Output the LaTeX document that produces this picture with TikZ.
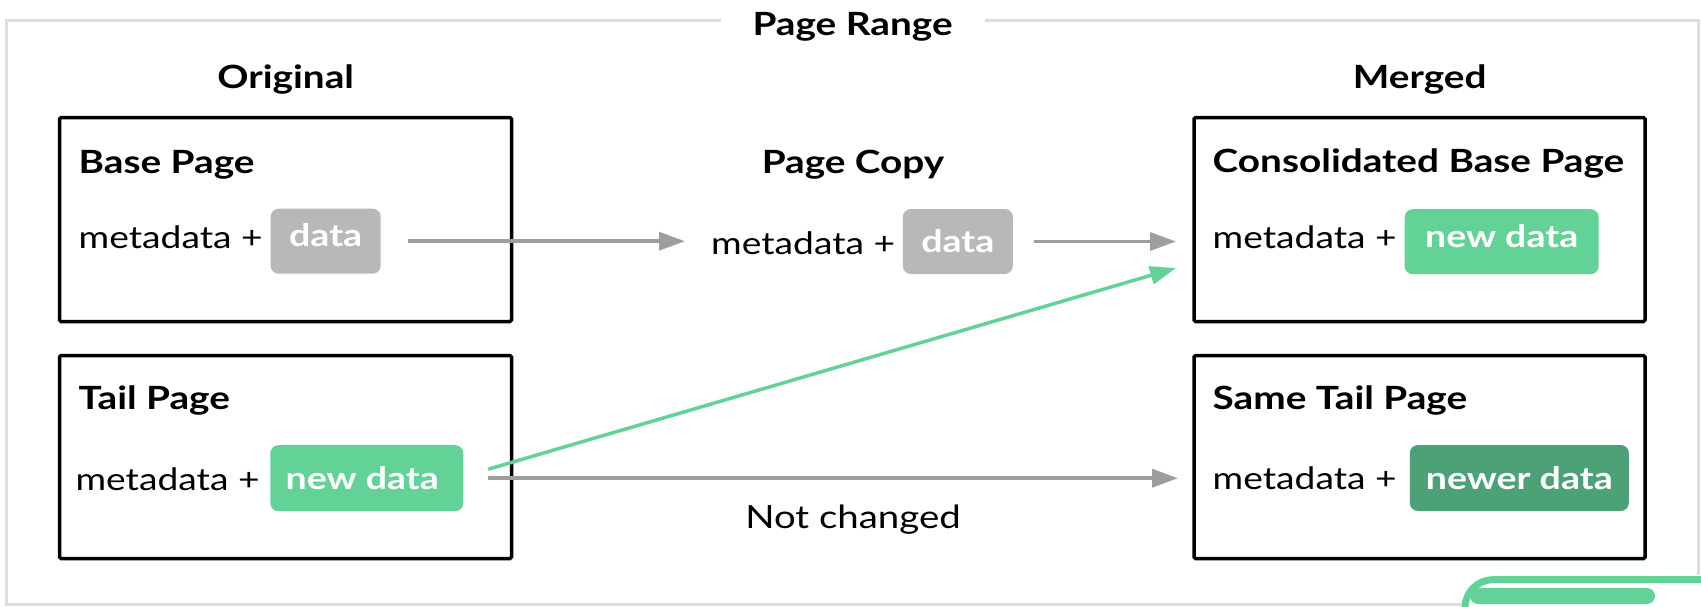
\documentclass[tikz,border=0pt]{standalone}
\usepackage{fontspec}
\setmainfont{Lato}[FakeStretch=1.2, BoldFeatures={FakeStretch=1.21}]
\usetikzlibrary{arrows.meta,calc}

\definecolor{framegray}{HTML}{DDDDDD}
\definecolor{arrowgray}{HTML}{9E9E9E}
\definecolor{pillgray}{HTML}{B8B8B8}
\definecolor{mint}{HTML}{63D297}
\definecolor{deepmint}{HTML}{4CA276}

\tikzset{
  frame/.style={draw=framegray, line width=3pt},
  pagebox/.style={draw=black, line width=3.5pt, rounded corners=1.5pt,
    inner sep=0pt, outer sep=0pt},
  heading/.style={anchor=base, inner sep=0pt, font=\fontsize{32}{38}\selectfont\bfseries},
  boxtitle/.style={anchor=base west, inner sep=0pt, font=\fontsize{32}{38}\selectfont\bfseries},
  meta/.style={anchor=base west, inner sep=0pt, font=\fontsize{31}{37}\selectfont},
  pill/.style={rounded corners=8pt, inner sep=0pt, outer sep=0pt,
    minimum height=65pt, text=white, font=\fontsize{31}{37}\selectfont\bfseries},
  raised/.style={text depth=12pt},
  flow/.style={draw=arrowgray, line width=3.5pt,
    -{Triangle[length=26pt,width=18pt]}},
  newflow/.style={draw=mint, line width=3.5pt,
    -{Triangle[length=26pt,width=18pt]}},
}

\begin{document}
\begin{tikzpicture}[x=1pt,y=-1pt]
  \useasboundingbox (0,0) rectangle (1701,606);
  \clip (0,0) rectangle (1701,606);

  % outer frame around the page range, with a gap for its title
  \node[heading] (range) at (852.6,35) {Page Range};
  \draw[frame] (720.5,20) -- (6,20) -- (6,604) -- (1462,604);
  \draw[frame] (984.6,20) -- (1698,20) -- (1698,575);

  % column headings
  \node[heading] (orig) at (285.7,88.3) {Original};
  \node[heading] (merged) at (1419.7,88.3) {Merged};
  \node[heading] (copyhead) at (853,173) {Page Copy};

  % page boxes
  \node[pagebox, minimum width=452pt, minimum height=204pt] (base) at (285.5,219.5) {};
  \node[pagebox, minimum width=452pt, minimum height=203pt] (tail) at (285.5,457) {};
  \node[pagebox, minimum width=451pt, minimum height=204pt] (cons) at (1419.5,219.5) {};
  \node[pagebox, minimum width=451pt, minimum height=203pt] (same) at (1419.5,457) {};

  % box titles
  \node[boxtitle] (baset) at (78.5,173.3) {Base Page};
  \node[boxtitle] (tailt) at (78.5,409.3) {Tail Page};
  \node[boxtitle] (const) at (1212.5,172.7) {Consolidated Base Page};
  \node[boxtitle] (samet) at (1212.5,409.3) {Same Tail Page};

  % metadata labels
  \node[meta] (m1) at (78.5,248.3) {metadata +};
  \node[meta] (mc) at (711,254) {metadata +};
  \node[meta] (m3) at (1212.5,248.3) {metadata +};
  \node[meta] (m2) at (75.4,490) {metadata +};
  \node[meta] (m4) at (1212.5,489.3) {metadata +};

  % data pills
  \node[pill, raised, fill=pillgray, minimum width=110pt] (p1) at (325.7,241.2) {data};
  \node[pill, fill=pillgray, minimum width=110pt] (pc) at (957.8,241.5) {data};
  \node[pill, raised, fill=mint, minimum width=194pt] (p3) at (1501.7,241.7) {new data};
  \node[pill, fill=mint, minimum width=193pt, minimum height=66pt] (p2) at (366.8,478.2) {\hspace*{-9pt}new data};
  \node[pill, fill=deepmint, minimum width=219pt, minimum height=66pt] (p4) at (1519.3,478) {newer data};

  % connectors
  \draw[flow] ([xshift=27pt]p1.east) -- ([xshift=-26pt]mc.west |- p1.east);
  \draw[flow] ([xshift=21pt]pc.east) -- ($(cons.west |- pc.east)+(-18,0)$);
  \draw[newflow] ($(p2.east)+(25,-9)$) -- ($(cons.west)+(-18,48.5)$);
  \draw[flow] ([xshift=25pt]p2.east) -- ($(same.west |- p2.east)+(-16,0)$);
  \node[anchor=base, inner sep=0pt, font=\fontsize{32}{38}\selectfont] (nc) at (853,528) {Not changed};

  % rounded green tab in the lower right corner
  \draw[draw=mint, line width=7pt, rounded corners=28pt]
    (1465,660) -- (1465,579.7) -- (1760,579.7);
  \fill[mint, rounded corners=8pt] (1470,588) rectangle (1655,604);
\end{tikzpicture}
\end{document}
